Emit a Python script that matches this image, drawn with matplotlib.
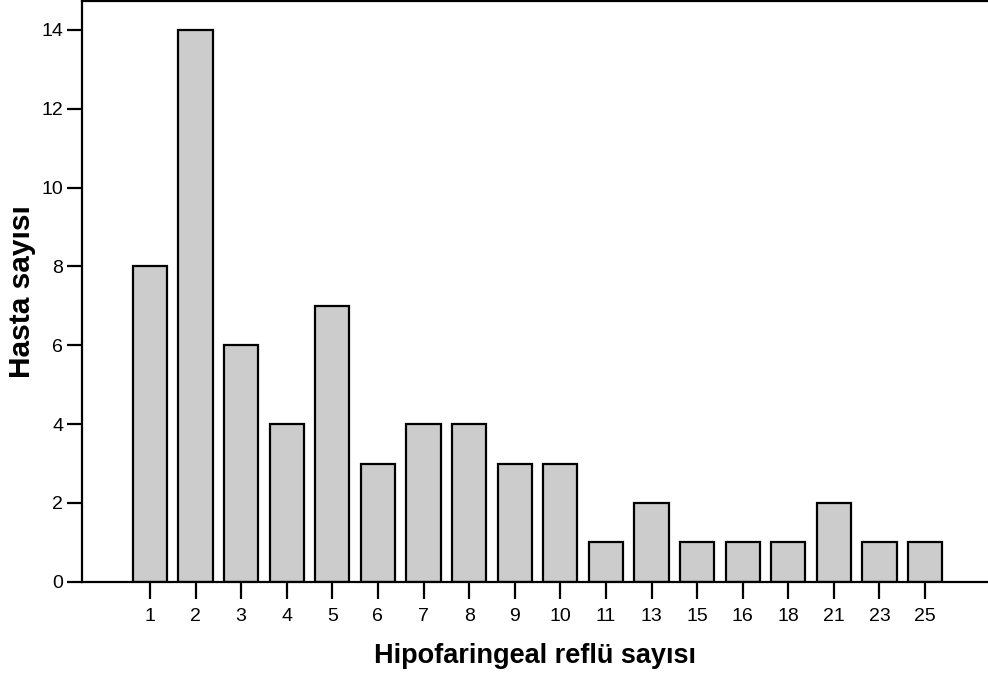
import numpy as np
import matplotlib.pyplot as plt

plt.rcParams['font.family'] = ['Liberation Sans', 'DejaVu Sans']

reflux_counts = ['1', '2', '3', '4', '5', '6', '7', '8', '9', '10',
                 '11', '13', '15', '16', '18', '21', '23', '25']
patients = [8, 14, 6, 4, 7, 3, 4, 4, 3, 3, 1, 2, 1, 1, 1, 2, 1, 1]

fig = plt.figure(figsize=(9.88, 6.75), dpi=100)
ax = fig.add_axes([0.083, 0.138, 0.917, 0.8605])

x = np.arange(len(reflux_counts))
ax.bar(x, patients, width=0.75, color='#cccccc', edgecolor='black', linewidth=1.6, zorder=2)

ax.set_xlim(-1.49, 18.38)
ax.set_ylim(0, 14.73)
ax.set_xticks(x)
ax.set_xticklabels(reflux_counts)
ax.set_yticks(np.arange(0, 15, 2))

for side in ['left', 'bottom', 'top']:
    ax.spines[side].set_linewidth(1.6)
ax.spines['right'].set_visible(False)

ax.tick_params(axis='y', length=10.5, width=1.6, pad=3, labelsize=14)
ax.tick_params(axis='x', length=12, width=1.6, pad=7, labelsize=14)

ax.set_xlabel('Hipofaringeal reflü sayısı', fontsize=19.5, fontweight='bold', labelpad=13)
ax.set_ylabel('Hasta sayısı', fontsize=21.5, fontweight='bold', labelpad=4)

fig.savefig('out.png', dpi=100)
